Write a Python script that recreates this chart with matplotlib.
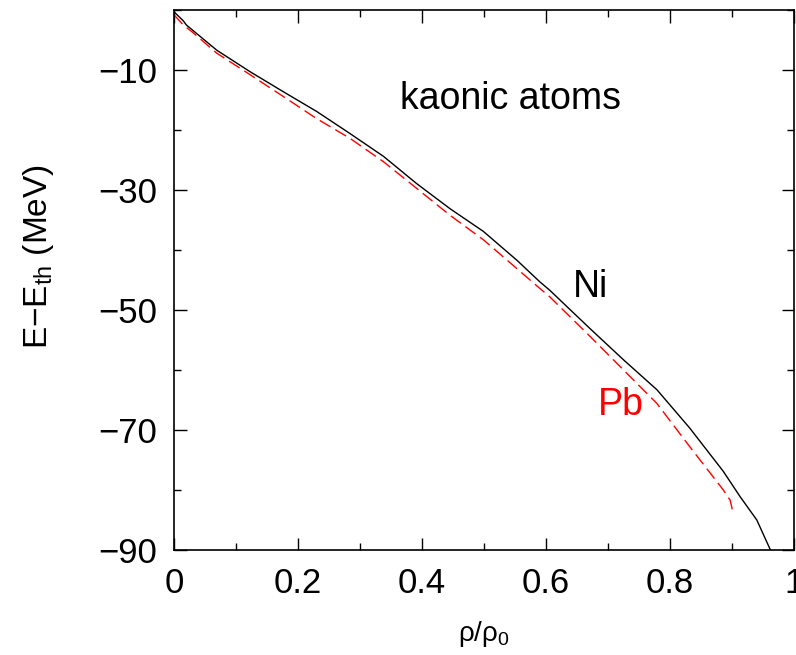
import matplotlib
matplotlib.use('Agg')
import matplotlib.pyplot as plt
from matplotlib.ticker import MultipleLocator

plt.rcParams['font.family'] = ['Liberation Sans', 'DejaVu Sans']
plt.rcParams['mathtext.fontset'] = 'custom'
plt.rcParams['mathtext.rm'] = 'Liberation Sans'
plt.rcParams['mathtext.it'] = 'Liberation Sans'

# binding energy vs density, Ni (solid) and Pb (dashed)
ni_x = [0, 0.015, 0.02, 0.069, 0.123, 0.176, 0.23, 0.284, 0.338, 0.391, 0.445, 0.499, 0.553,
        0.590, 0.606, 0.671, 0.725, 0.779, 0.832, 0.886, 0.913, 0.940, 0.962]
ni_y = [-0.3, -1.8, -2.5, -6.7, -10.3, -13.6, -16.9, -20.6, -24.4, -28.9, -33.1, -36.9, -41.7,
        -45.3, -46.7, -53.1, -58.3, -63.3, -69.7, -76.9, -81.1, -85.0, -90.0]
pb_x = [0, 0.015, 0.031, 0.069, 0.123, 0.176, 0.23, 0.284, 0.338, 0.391, 0.445, 0.499, 0.553,
        0.590, 0.606, 0.671, 0.725, 0.779, 0.832, 0.886, 0.897, 0.901]
pb_y = [-0.8, -2.5, -3.8, -7.2, -10.8, -14.4, -18.1, -21.4, -25.3, -29.7, -34.2, -38.3, -43.1,
        -46.4, -47.8, -54.4, -60.0, -65.6, -72.8, -80.0, -81.7, -83.5]

x_ticks = [0, 0.2, 0.4, 0.6, 0.8, 1.0]
x_ticklabels = ['0', '0.2', '0.4', '0.6', '0.8', '1']
y_ticks = [-90, -70, -50, -30, -10]

fig = plt.figure(figsize=(7.96, 6.55), dpi=100)
ax = fig.add_axes([0.2186, 0.1603, 0.7789, 0.8244])

ax.plot(ni_x, ni_y, color='black', lw=1.0)
ax.plot(pb_x, pb_y, color='red', lw=1.0, dashes=(9, 4))

ax.set_xlim(0, 1)
ax.set_ylim(-90, 0)
ax.set_xticks(x_ticks)
ax.set_xticklabels(x_ticklabels)
ax.xaxis.set_minor_locator(MultipleLocator(0.1))
ax.set_yticks(y_ticks)
ax.yaxis.set_minor_locator(MultipleLocator(10))

ax.tick_params(which='both', direction='in', top=True, right=True, width=1.0)
ax.tick_params(which='major', length=9, labelsize=25, pad=12)
ax.tick_params(which='minor', length=5)
for s in ax.spines.values():
    s.set_linewidth(1.2)

ax.set_xlabel(r'$\rho/\rho_0$', fontsize=20, labelpad=14)
ax.set_ylabel(r'E$-$E$_{\rm th}$ (MeV)', fontsize=24)
ax.yaxis.set_label_coords(-0.19, 0.544)

ax.text(0.365, -16.5, 'kaonic atoms', fontsize=27, va='baseline')
ax.text(0.644, -47.8, 'Ni', fontsize=27, va='baseline')
ax.text(0.684, -67.5, 'Pb', fontsize=27, va='baseline', color='red')

fig.savefig('out.png', dpi=100)
